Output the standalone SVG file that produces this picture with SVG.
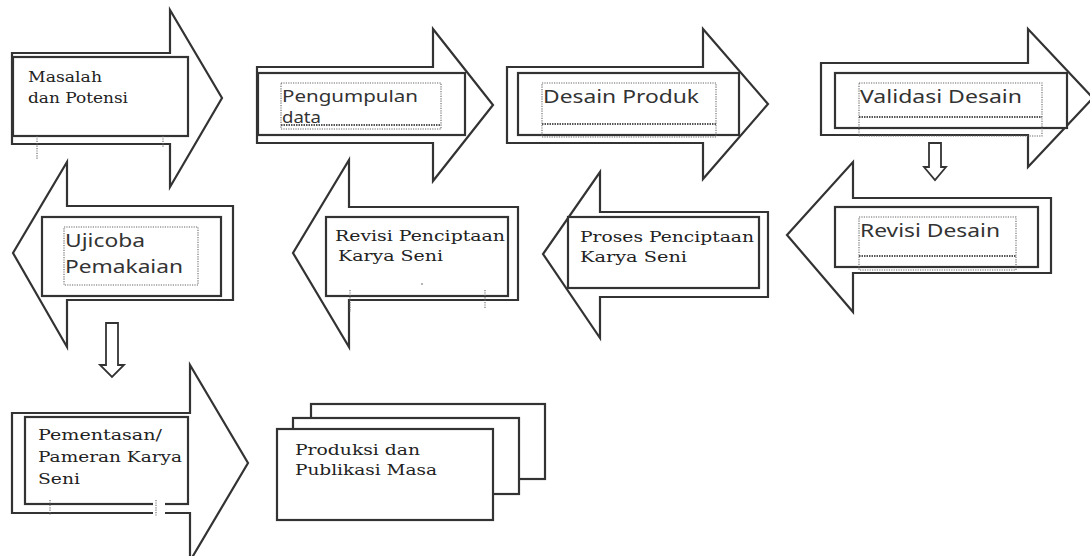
<svg xmlns="http://www.w3.org/2000/svg" width="1090" height="556" viewBox="0 0 1090 556">
<style>
.arr{fill:#fff;stroke:#333;stroke-width:2.2;stroke-linejoin:miter}
.box{fill:#fff;stroke:#333;stroke-width:2.2}
.dot{fill:none;stroke:#666;stroke-width:1.1;stroke-dasharray:1.2 1.2}
.wav{fill:none;stroke:#555;stroke-width:2;stroke-dasharray:1.5 1}
.sans{font-family:"Noto Sans","Open Sans",sans-serif;font-size:18px;fill:#333}
.sm{font-size:16.5px}
.serif{font-family:"DejaVu Serif","Liberation Serif",serif;font-size:15.5px;fill:#222}
.con{fill:#fff;stroke:#333;stroke-width:1.8}
</style>
<rect width="1090" height="556" fill="#fff"/>

<g id="n1">
<path class="arr" d="M12,53 L170,53 L170,10 L222,98 L170,187 L170,144 L12,144 Z"/>
<rect class="box" x="13" y="57" width="175" height="79"/>
<line class="dot" x1="37" y1="136" x2="37" y2="160"/>
<line class="dot" x1="163" y1="136" x2="163" y2="148"/>
<text class="serif" x="28" y="82" textLength="74" lengthAdjust="spacingAndGlyphs">Masalah</text>
<text class="serif" x="28" y="103" textLength="100" lengthAdjust="spacingAndGlyphs">dan Potensi</text>
</g>

<g id="n2">
<path class="arr" d="M257,67 L433,67 L433,29 L493,105 L433,181 L433,143 L257,143 Z"/>
<rect class="box" x="258" y="73" width="207" height="62"/>
<rect class="dot" x="281" y="83" width="160" height="46"/>
<line class="wav" x1="281" y1="125" x2="441" y2="125"/>
<text class="sans sm" x="282" y="102" textLength="136" lengthAdjust="spacingAndGlyphs">Pengumpulan</text>
<text class="sans sm" x="282" y="123" textLength="39" lengthAdjust="spacingAndGlyphs">data</text>
</g>

<g id="n3">
<path class="arr" d="M507,67 L703,67 L703,29 L768,104 L703,179 L703,143 L507,143 Z"/>
<rect class="box" x="518" y="73" width="221" height="62"/>
<rect class="dot" x="542" y="83" width="174" height="54"/>
<line class="wav" x1="542" y1="124" x2="716" y2="124"/>
<text class="sans" x="543" y="103" textLength="156" lengthAdjust="spacingAndGlyphs">Desain Produk</text>
</g>

<g id="n4">
<path class="arr" d="M821,63 L1028,63 L1028,29 L1093,98 L1028,167 L1028,135 L821,135 Z"/>
<rect class="box" x="835" y="73" width="232" height="55"/>
<rect class="dot" x="859" y="83" width="183" height="53"/>
<line class="wav" x1="859" y1="117" x2="1042" y2="117"/>
<text class="sans" x="860" y="103" textLength="162" lengthAdjust="spacingAndGlyphs">Validasi Desain</text>
</g>

<g id="n5">
<path class="arr" d="M1051,198 L853,198 L853,162 L787,235 L853,312 L853,273 L1051,273 Z"/>
<rect class="box" x="835" y="207" width="203" height="60"/>
<rect class="dot" x="859" y="217" width="157" height="53"/>
<line class="wav" x1="859" y1="256" x2="1016" y2="256"/>
<text class="sans" x="860" y="237" textLength="140" lengthAdjust="spacingAndGlyphs">Revisi Desain</text>
</g>

<g id="n6">
<path class="arr" d="M768,212 L600,212 L600,172 L543,254 L600,338 L600,297 L768,297 Z"/>
<rect class="box" x="568" y="217" width="191" height="71"/>
<text class="serif" x="580" y="242" textLength="174" lengthAdjust="spacingAndGlyphs">Proses Penciptaan</text>
<text class="serif" x="580" y="262" textLength="107" lengthAdjust="spacingAndGlyphs">Karya  Seni</text>
</g>

<g id="n7">
<path class="arr" d="M518,207 L349,207 L349,160 L293,253 L349,347 L349,300 L518,300 Z"/>
<rect class="box" x="326" y="217" width="182" height="79"/>
<line class="dot" x1="350" y1="290" x2="350" y2="312"/>
<line class="dot" x1="485" y1="290" x2="485" y2="308"/>
<circle cx="422" cy="284" r="0.8" fill="#555"/>
<text class="serif" x="335" y="241" textLength="170" lengthAdjust="spacingAndGlyphs">Revisi Penciptaan</text>
<text class="serif" x="338" y="261" textLength="105" lengthAdjust="spacingAndGlyphs">Karya Seni</text>
</g>

<g id="n8">
<path class="arr" d="M233,206 L67,206 L67,162 L13,253 L67,347 L67,300 L233,300 Z"/>
<rect class="box" x="42" y="217" width="179" height="79"/>
<rect class="dot" x="64" y="227" width="134" height="58"/>
<text class="sans" x="65" y="247" textLength="80" lengthAdjust="spacingAndGlyphs">Ujicoba</text>
<text class="sans" x="65" y="273" textLength="118" lengthAdjust="spacingAndGlyphs">Pemakaian</text>
</g>

<g id="n9">
<path class="arr" d="M12,413 L190,413 L190,365 L248,463 L190,561 L190,513 L12,513 Z"/>
<rect class="box" x="25" y="417" width="163" height="87"/>
<rect x="153" y="500" width="12" height="16" fill="#fff"/>
<line class="dot" x1="156" y1="500" x2="156" y2="516"/>
<line class="dot" x1="50" y1="500" x2="50" y2="515"/>
<text class="serif" x="38" y="440" textLength="124" lengthAdjust="spacingAndGlyphs">Pementasan/</text>
<text class="serif" x="38" y="462" textLength="144" lengthAdjust="spacingAndGlyphs">Pameran Karya</text>
<text class="serif" x="38" y="484" textLength="42" lengthAdjust="spacingAndGlyphs">Seni</text>
</g>

<g id="n10">
<rect class="box" x="311" y="404" width="234" height="75"/>
<rect class="box" x="293" y="418" width="226" height="76"/>
<rect class="box" x="277" y="429" width="216" height="91"/>
<text class="serif" x="295" y="455" textLength="125" lengthAdjust="spacingAndGlyphs">Produksi dan</text>
<text class="serif" x="295" y="475" textLength="142" lengthAdjust="spacingAndGlyphs">Publikasi Masa</text>
</g>

<g id="connectors">
<path class="con" d="M929,143 L941,143 L941,167 L946,167 L935,180 L924,167 L929,167 Z"/>
<path class="con" d="M106,323 L118,323 L118,365 L124,365 L112,377 L100,365 L106,365 Z"/>
</g>
</svg>
